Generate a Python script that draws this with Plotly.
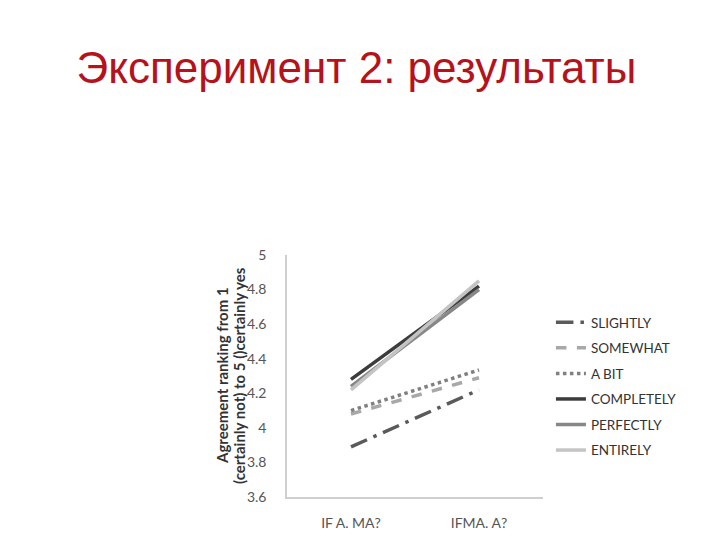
import plotly.graph_objects as go

categories = ["IF A. MA?", "IFMA. A?"]
series_names = ["SLIGHTLY", "SOMEWHAT", "A BIT", "COMPLETELY", "PERFECTLY", "ENTIRELY"]
slightly = [3.89, 4.22]
somewhat = [4.08, 4.29]
a_bit = [4.10, 4.335]
completely = [4.28, 4.82]
perfectly = [4.24, 4.80]
entirely = [4.22, 4.85]
y_ticks = [3.6, 3.8, 4, 4.2, 4.4, 4.6, 4.8, 5]
y_title_lines = ["<b>Agreement ranking from 1</b>", "<b>(certainly not) to 5 ()certainly yes</b>"]

values = [slightly, somewhat, a_bit, completely, perfectly, entirely]
colors = ["#5a5a5a", "#a8a8a8", "#808080", "#3c3c3c", "#878787", "#c4c4c4"]
dashes = ["longdashdot", "dash", "dot", "solid", "solid", "solid"]

fig = go.Figure()
for i, (name, vals) in enumerate(zip(series_names, values)):
    fig.add_trace(go.Scatter(
        x=categories, y=vals, name=name, mode="lines",
        line=dict(color=colors[i], width=3.5, dash=dashes[i]),
        legendgroup=name,
    ))

fig.update_layout(
    width=720, height=540,
    paper_bgcolor="white", plot_bgcolor="white",
    margin=dict(l=279, r=185, t=247, b=51),
    title=dict(text="Эксперимент 2: результаты", x=0.484, xanchor="center",
               y=1 - 60 / 540, yanchor="middle", yref="container",
               font=dict(family="Liberation Sans, Arial, sans-serif", size=44, color="#b5121b")),
    showlegend=True,
    legend=dict(x=1.031, xanchor="left", y=0.785, yanchor="top",
                itemwidth=30, tracegroupgap=5,
                font=dict(family="Lato, Open Sans, sans-serif", size=13.5, color="#333333"),
                bgcolor="rgba(0,0,0,0)"),
    xaxis=dict(type="category", range=[-0.5, 1.5], showgrid=False, zeroline=False,
               showline=True, linecolor="#cfcfcf", linewidth=2, ticks="",
               ticklabelstandoff=12,
               tickfont=dict(family="Lato, Open Sans, sans-serif", size=14, color="#555555")),
    yaxis=dict(range=[3.6, 5], tickvals=y_ticks, ticktext=[str(v) for v in y_ticks],
               showgrid=False, zeroline=False, showline=True, linecolor="#cfcfcf", linewidth=1.5,
               ticks="", ticklabelstandoff=16,
               tickfont=dict(family="Lato, Open Sans, sans-serif", size=14, color="#555555")),
)

for line_text, xpos in zip(y_title_lines, [214, 231]):
    fig.add_annotation(
        text=line_text,
        xref="paper", yref="paper", x=(xpos - 279) / 256, y=0.5,
        xanchor="center", yanchor="middle", textangle=-90, showarrow=False,
        font=dict(family="Lato, Open Sans, sans-serif", size=15, color="#333333"),
    )

fig.write_html("out.html")
